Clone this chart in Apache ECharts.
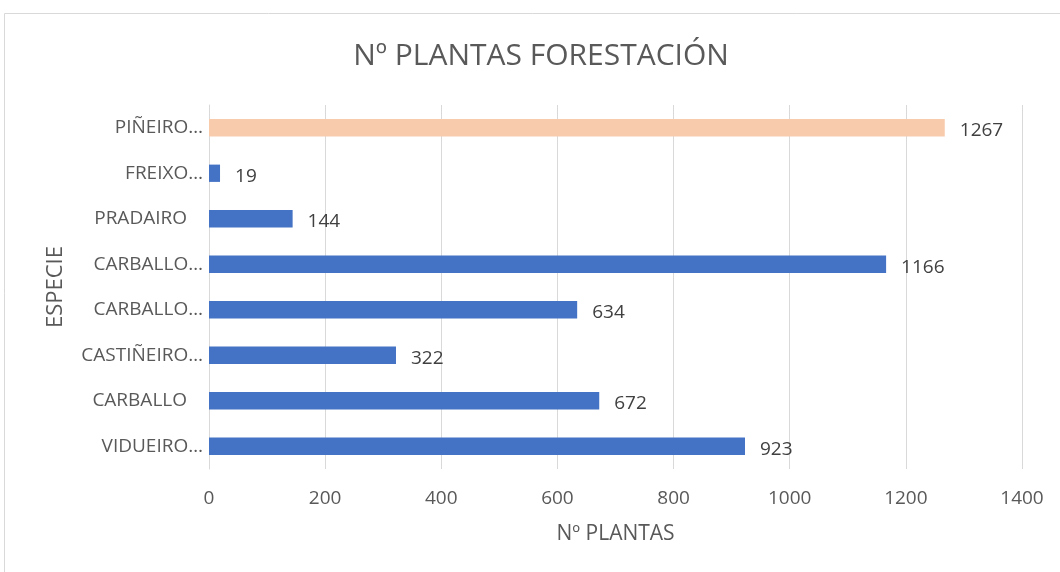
<!DOCTYPE html>
<html>
<head>
<meta charset="utf-8">
<script src="https://cdn.jsdelivr.net/npm/echarts@6/dist/echarts.min.js"></script>
<style>
  html, body { margin: 0; padding: 0; background: #fff; }
  #chart { width: 1060px; height: 572px; }
</style>
</head>
<body>
<div id="chart"></div>
<script>
// bottom to top, as on the axis
const especies = ['VIDUEIRO…', 'CARBALLO', 'CASTIÑEIRO…', 'CARBALLO…', 'CARBALLO…', 'PRADAIRO', 'FREIXO…', 'PIÑEIRO…']
const plantas = [923, 672, 322, 634, 1166, 144, 19, 1267]
const xTicks = [0, 200, 400, 600, 800, 1000, 1200, 1400]

const font = '"Open Sans", "Noto Sans", sans-serif'
const chart = echarts.init(document.getElementById('chart'))

const option = {
  animation: false,
  textStyle: { fontFamily: font },
  graphic: [{
    type: 'rect',
    shape: { x: 4.5, y: 13.5, width: 1070, height: 600 },
    style: { fill: 'none', stroke: '#d9d9d9', lineWidth: 1 },
    silent: true
  }],
  title: {
    text: 'Nº PLANTAS FORESTACIÓN',
    left: 536,
    top: 36,
    textAlign: 'center',
    textStyle: { fontFamily: font, fontWeight: 'normal', fontSize: 30, color: '#595959' }
  },
  grid: { left: 209, right: 38, top: 105, bottom: 103 },
  xAxis: {
    type: 'value',
    min: xTicks[0],
    max: xTicks[xTicks.length - 1],
    interval: 200,
    name: 'Nº PLANTAS',
    nameLocation: 'middle',
    nameGap: 55,
    nameTextStyle: { fontFamily: font, fontSize: 21, color: '#595959' },
    axisLine: { show: false },
    axisTick: { show: false },
    axisLabel: {
      fontFamily: font, fontSize: 19, color: '#595959', margin: 20,
      formatter: v => String(v)
    },
    splitLine: { lineStyle: { color: '#d9d9d9', width: 1 } }
  },
  yAxis: {
    type: 'category',
    data: especies,
    name: 'ESPECIE',
    nameLocation: 'middle',
    nameGap: 142,
    nameRotate: 90,
    nameTextStyle: { fontFamily: font, fontSize: 22, color: '#595959' },
    axisLine: { lineStyle: { color: '#d9d9d9', width: 1 } },
    axisTick: { show: false },
    axisLabel: {
      fontFamily: font, fontSize: 19, color: '#595959', margin: 6,
      // names that are not cut keep the ellipsis room on their right, as in Excel
      formatter: v => v.endsWith('…') ? v : '{p|' + v + '}',
      rich: {
        p: { fontFamily: font, fontSize: 19, color: '#595959', padding: [0, 16, 0, 0] }
      }
    }
  },
  series: [{
    type: 'bar',
    barCategoryGap: '62%',
    data: plantas.map((v, i) => ({
      value: v,
      itemStyle: { color: i === plantas.length - 1 ? '#F8CBAD' : '#4472C4' }
    })),
    label: {
      show: true,
      position: 'right',
      distance: 15,
      offset: [0, 3],
      fontFamily: font,
      fontSize: 19,
      color: '#404040'
    }
  }]
}

chart.setOption(option)
</script>
</body>
</html>
